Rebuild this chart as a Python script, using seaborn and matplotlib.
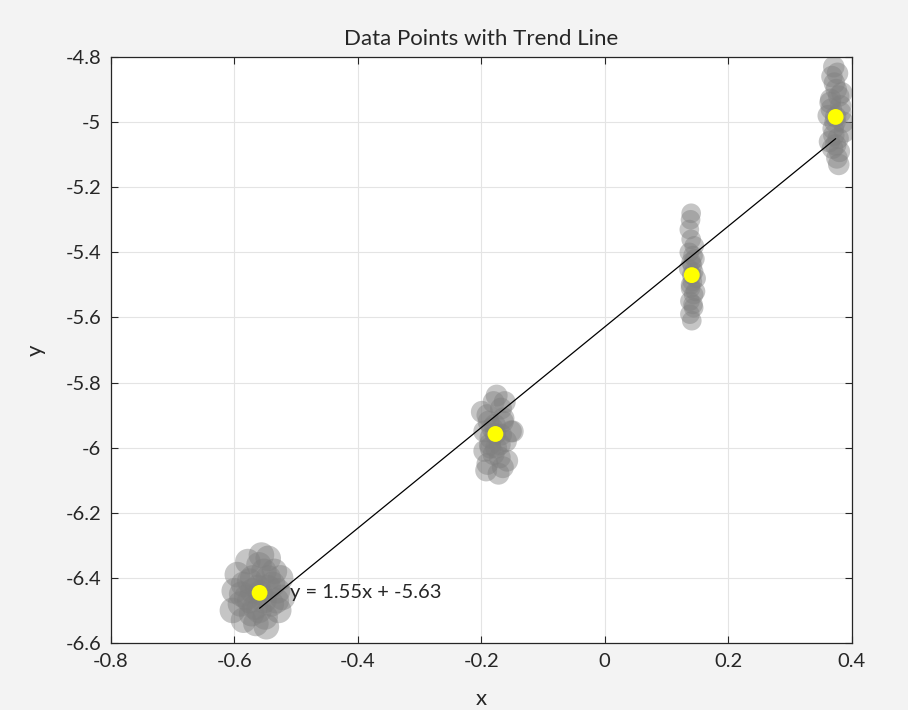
import numpy as np
import pandas as pd
import matplotlib
matplotlib.use("Agg")
import matplotlib.pyplot as plt
import seaborn as sns

# cloud points (one list per cluster)
c1_x = [-0.558, -0.570, -0.545, -0.575, -0.540, -0.560, -0.550, -0.585, -0.530, -0.590,
        -0.565, -0.535, -0.595, -0.578, -0.545, -0.528, -0.600, -0.572, -0.548, -0.522,
        -0.585, -0.556, -0.603, -0.525, -0.562, -0.552, -0.570, -0.545, -0.580, -0.538,
        -0.566, -0.552, -0.588, -0.532, -0.560, -0.575]
c1_y = [-6.446, -6.400, -6.400, -6.470, -6.480, -6.360, -6.520, -6.420, -6.440, -6.480,
        -6.540, -6.380, -6.390, -6.350, -6.340, -6.500, -6.440, -6.510, -6.550, -6.460,
        -6.530, -6.330, -6.500, -6.400, -6.430, -6.470, -6.440, -6.430, -6.460, -6.420,
        -6.490, -6.380, -6.450, -6.470, -6.500, -6.410]
c2_x = [-0.177, -0.190, -0.165, -0.185, -0.170, -0.195, -0.160, -0.180, -0.175, -0.190,
        -0.165, -0.199, -0.152, -0.172, -0.185, -0.168, -0.180, -0.195, -0.158, -0.149,
        -0.188, -0.170, -0.178, -0.162, -0.192, -0.182, -0.168, -0.176, -0.186, -0.164]
c2_y = [-5.958, -5.900, -5.920, -6.000, -6.030, -5.950, -5.980, -5.860, -5.840, -6.050,
        -6.060, -5.890, -5.950, -6.080, -5.970, -5.880, -6.020, -6.010, -6.040, -5.950,
        -5.920, -5.990, -5.930, -5.860, -6.070, -5.940, -5.960, -6.000, -5.990, -5.910]
c3_x = [0.141, 0.137, 0.146, 0.139, 0.144, 0.136, 0.148, 0.140, 0.143, 0.138,
        0.145, 0.141, 0.137, 0.147, 0.142, 0.139, 0.144, 0.140, 0.143, 0.138,
        0.142, 0.140, 0.144, 0.139]
c3_y = [-5.470, -5.400, -5.420, -5.500, -5.530, -5.450, -5.480, -5.360, -5.560, -5.590,
        -5.380, -5.610, -5.330, -5.520, -5.440, -5.300, -5.570, -5.280, -5.410, -5.550,
        -5.490, -5.430, -5.460, -5.510]
c4_x = [0.374, 0.366, 0.382, 0.370, 0.378, 0.362, 0.386, 0.372, 0.368, 0.380,
        0.376, 0.364, 0.384, 0.371, 0.379, 0.367, 0.375, 0.388, 0.369, 0.377,
        0.373, 0.382, 0.365, 0.371, 0.379, 0.374]
c4_y = [-4.984, -4.930, -4.950, -5.020, -5.050, -4.980, -5.000, -4.880, -4.860, -5.090,
        -5.110, -5.060, -4.910, -4.830, -5.130, -4.960, -4.900, -5.030, -5.080, -4.850,
        -5.000, -4.970, -4.940, -5.040, -4.920, -5.070]

# cluster centres (yellow dots)
cx = [-0.559, -0.177, 0.141, 0.374]
cy = [-6.446, -5.958, -5.470, -4.984]

fit_label = "y = 1.55x + -5.63"

clusters = [(c1_x, c1_y, 340), (c2_x, c2_y, 250), (c3_x, c3_y, 200), (c4_x, c4_y, 240)]
cent = pd.DataFrame({"x": cx, "y": cy})

sns.set_style("whitegrid")
plt.rcParams['font.family'] = ['Lato', 'DejaVu Sans']

fig = plt.figure(figsize=(9.08, 7.10), dpi=100, facecolor='#f3f3f3')
ax = fig.add_axes([0.122, 0.0944, 0.816, 0.8253])
ax.set_facecolor('white')

for xs, ys, size in clusters:
    sns.scatterplot(x=xs, y=ys, ax=ax, color='#808080', alpha=0.45,
                    s=size, edgecolor='none', zorder=2)
sns.regplot(data=cent, x="x", y="y", ax=ax, ci=None, scatter=False,
            line_kws={"color": "black", "lw": 0.9, "zorder": 3})
sns.scatterplot(data=cent, x="x", y="y", ax=ax, color='#ffff00', s=130,
                edgecolor='none', zorder=4)
ax.text(cx[0] + 0.05, cy[0], fit_label, fontsize=14.5, va='center', ha='left', zorder=5)

ax.set_xlim(-0.8, 0.4)
ax.set_ylim(-6.6, -4.8)
ax.set_xticks(np.arange(-0.8, 0.41, 0.2))
ax.set_yticks(np.arange(-6.6, -4.79, 0.2))
ax.set_xticklabels(['-0.8', '-0.6', '-0.4', '-0.2', '0', '0.2', '0.4'])
ax.set_yticklabels(['-6.6', '-6.4', '-6.2', '-6', '-5.8', '-5.6', '-5.4', '-5.2', '-5', '-4.8'])
ax.grid(True, color='#e4e4e4', lw=0.8)
ax.tick_params(direction='in', length=5, width=0.8, color='#262626',
               labelsize=14.5, labelcolor='#262626', top=True, right=True,
               bottom=True, left=True, pad=7)
for sp in ax.spines.values():
    sp.set_color('#262626')
    sp.set_linewidth(0.9)

ax.set_title("Data Points with Trend Line", fontsize=16, color='#262626', pad=9)
ax.set_xlabel("x", fontsize=16, color='#262626', labelpad=14)
ax.set_ylabel("y", fontsize=16, color='#262626', labelpad=14)

fig.savefig("out.png", dpi=100, facecolor=fig.get_facecolor())
